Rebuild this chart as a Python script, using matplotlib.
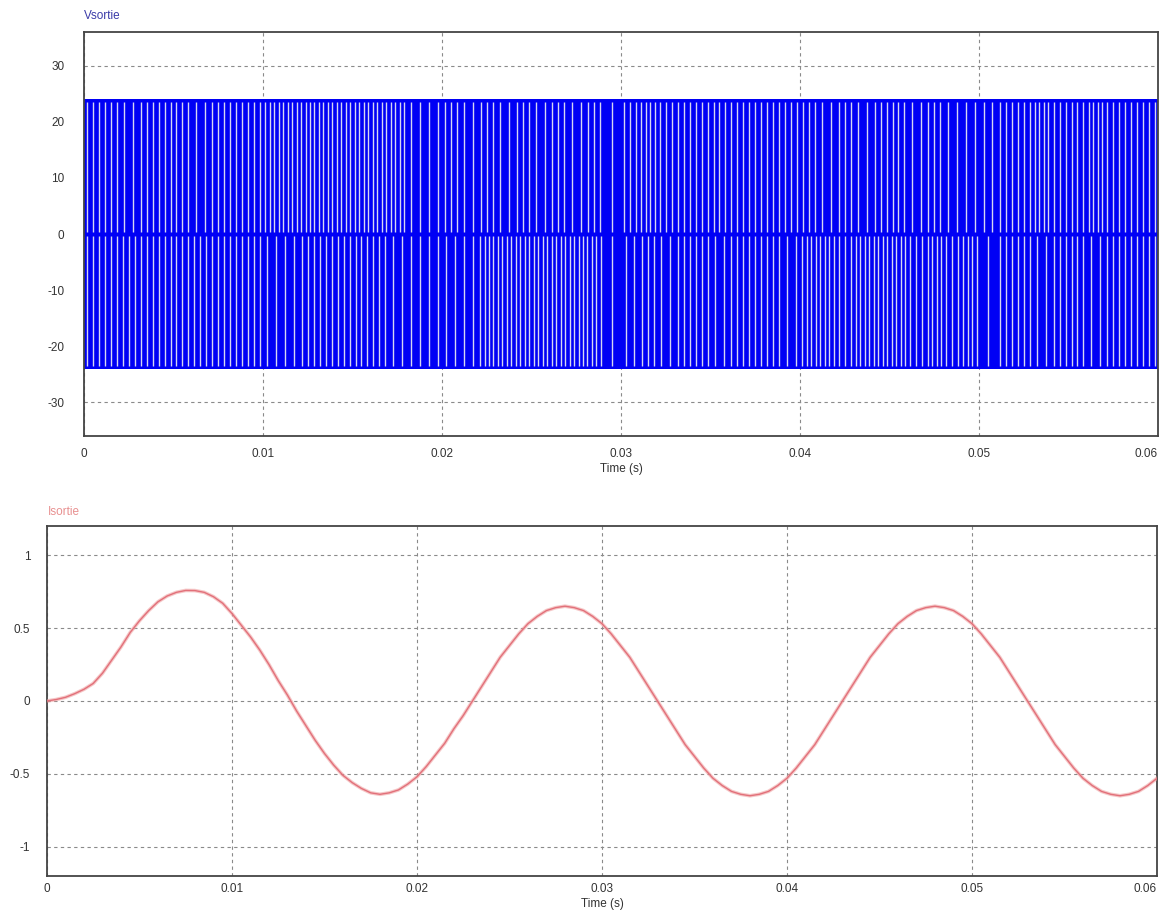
import matplotlib
matplotlib.use("Agg")
import matplotlib.pyplot as plt
import numpy as np

plt.rcParams['font.family'] = ['Liberation Sans', 'DejaVu Sans']
plt.rcParams['axes.unicode_minus'] = False

# time axis / ticks
x_ticks = [0, 0.01, 0.02, 0.03, 0.04, 0.05, 0.06]
x_labels = ["0", "0.01", "0.02", "0.03", "0.04", "0.05", "0.06"]
v_ticks = [-30, -20, -10, 0, 10, 20, 30]
i_ticks = [-1, -0.5, 0, 0.5, 1]
i_labels = ["-1", "-0.5", "0", "0.5", "1"]

# Vsortie : pwm levels and number of visible gaps per ms (upper / lower half)
v_high = 24
v_low = -24
gaps_upper = [3, 3, 2, 3, 3, 3, 2, 3, 3, 3,
              4, 4, 4, 4, 4, 4, 4, 4, 2, 2,
              3, 2, 3, 2, 3, 2, 3, 2, 3, 1,
              3, 4, 3, 3, 3, 3, 3, 3, 3, 3,
              3, 2, 3, 2, 3, 3, 2, 3, 2, 2,
              2, 3, 3, 4, 3, 3, 4, 3, 3, 3]
gaps_lower = [3, 3, 3, 3, 3, 3, 3, 3, 3, 3,
              2, 2, 3, 3, 3, 3, 3, 2, 2, 2,
              2, 2, 4, 4, 4, 4, 4, 4, 4, 1,
              2, 3, 2, 3, 3, 2, 3, 3, 3, 2,
              4, 4, 3, 4, 4, 4, 3, 4, 3, 4,
              1, 3, 3, 2, 3, 3, 2, 3, 3, 3]

# Isortie : samples every 0.5 ms
i_time = [k * 0.0005 for k in range(121)]
i_vals = [0.00, 0.01, 0.025, 0.05, 0.08, 0.12, 0.19, 0.28, 0.37, 0.47,
          0.55, 0.62, 0.68, 0.72, 0.745, 0.758, 0.757, 0.745, 0.715, 0.67,
          0.60, 0.52, 0.44, 0.35, 0.25, 0.14, 0.04, -0.07, -0.17, -0.27,
          -0.36, -0.44, -0.51, -0.56, -0.60, -0.63, -0.64, -0.63, -0.61, -0.57,
          -0.52, -0.45, -0.37, -0.29, -0.19, -0.10, 0.00, 0.10, 0.20, 0.30,
          0.38, 0.46, 0.53, 0.58, 0.62, 0.64, 0.65, 0.64, 0.62, 0.58,
          0.53, 0.46, 0.38, 0.30, 0.20, 0.10, 0.00, -0.10, -0.20, -0.30,
          -0.38, -0.46, -0.53, -0.58, -0.62, -0.64, -0.65, -0.64, -0.62, -0.58,
          -0.53, -0.46, -0.38, -0.30, -0.20, -0.10, 0.00, 0.10, 0.20, 0.30,
          0.38, 0.46, 0.53, 0.58, 0.62, 0.64, 0.65, 0.64, 0.62, 0.58,
          0.53, 0.46, 0.38, 0.30, 0.20, 0.10, 0.00, -0.10, -0.20, -0.30,
          -0.38, -0.46, -0.53, -0.58, -0.62, -0.64, -0.65, -0.64, -0.62, -0.58,
          -0.53]


def gap_times(counts):
    out = []
    for i, n in enumerate(counts):
        for k in range(n):
            out.append((i + (k + 0.5) / n) * 0.001)
    return out


def style_axes(ax):
    ax.set_axisbelow(True)
    ax.grid(True, color="#8a8a8a", linestyle=(0, (3, 3)), linewidth=0.8)
    for s in ax.spines.values():
        s.set_color("#444444")
        s.set_linewidth(1.3)
    ax.tick_params(length=0, labelsize=8.5, labelcolor="#333333")
    ax.set_xticks(x_ticks)
    ax.set_xticklabels(x_labels)
    ax.get_xticklabels()[-1].set_horizontalalignment("right")
    ax.set_xlim(0, 0.06)
    ax.set_xlabel("Time (s)", fontsize=8.5, color="#333333", labelpad=2)


fig = plt.figure(figsize=(11.62, 9.10), dpi=100)

# top plot
ax1 = fig.add_axes([0.0723, 0.5209, 0.9243, 0.4439])
style_axes(ax1)
ax1.fill_between([0, 0.06], [v_low, v_low], [v_high, v_high], color="#0000f5", lw=0, zorder=1)
ax1.vlines(gap_times(gaps_upper), 0.35, v_high - 0.4, color="#d6d6f2", lw=1.0, zorder=2)
ax1.vlines(gap_times(gaps_lower), v_low + 0.4, -0.35, color="#d6d6f2", lw=1.0, zorder=2)
ax1.set_ylim(-36, 36)
ax1.set_yticks(v_ticks)
ax1.tick_params(axis="y", pad=14)
ax1.tick_params(axis="x", pad=9)
fig.text(84 / 1162, 1 - 16 / 910, "Vsortie", color="#3a3aa8", fontsize=8.5, va="center")

# bottom plot
ax2 = fig.add_axes([0.0404, 0.0374, 0.9553, 0.3846])
style_axes(ax2)
ax2.plot(i_time, i_vals, color="#ee9a9a", lw=2.6, alpha=0.55, zorder=3)
ax2.plot(i_time, i_vals, color="#e2707a", lw=1.0, zorder=4)
ax2.set_ylim(-1.2, 1.2)
ax2.set_yticks(i_ticks)
ax2.set_yticklabels(i_labels)
ax2.tick_params(axis="y", pad=12)
ax2.tick_params(axis="x", pad=5)
fig.text(48 / 1162, 1 - 512 / 910, "Isortie", color="#e89090", fontsize=8.5, va="center")

fig.savefig("out.png", dpi=100)
